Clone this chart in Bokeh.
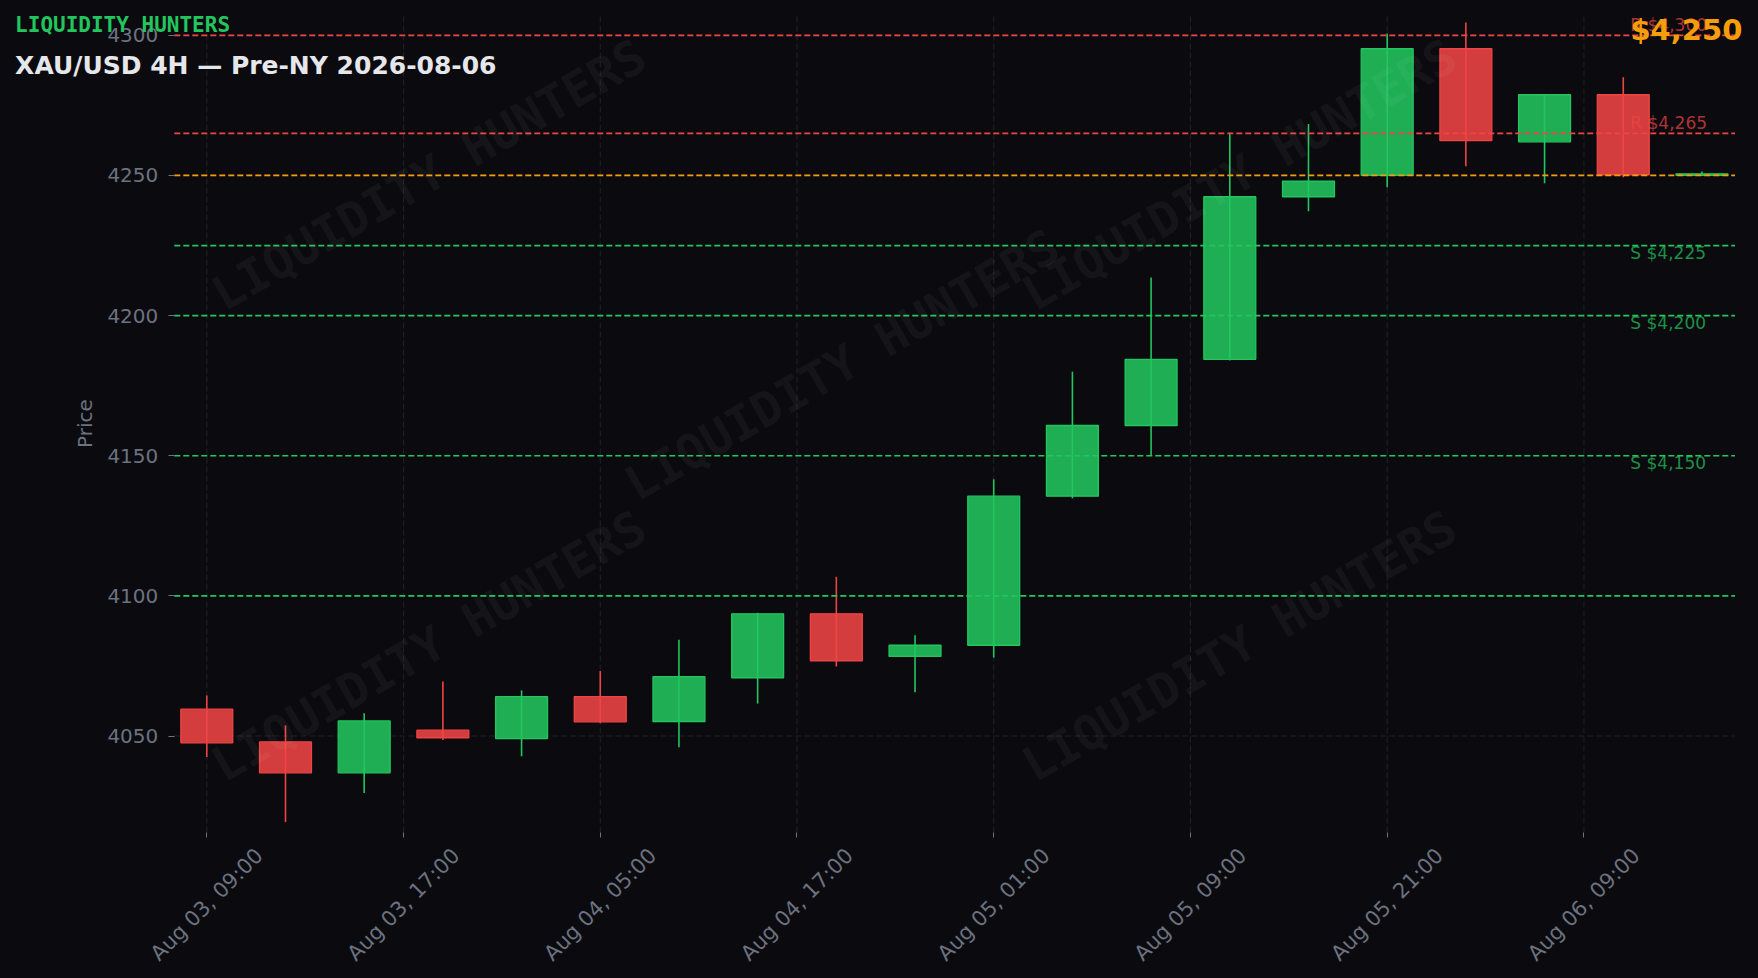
import math
from bokeh.plotting import figure
from bokeh.models import Label, FixedTicker, Range1d, ColumnDataSource
from bokeh.embed import file_html
from bokeh.resources import INLINE

# ---------------- data ----------------
opens = [4059.6, 4047.9, 4036.9, 4052.1, 4049.1, 4064.1, 4055.2, 4070.8, 4093.6, 4078.4,
         4082.4, 4135.6, 4160.8, 4184.4, 4242.4, 4250.0, 4295.2, 4262.0, 4278.8, 4250.0]
closes = [4047.6, 4036.9, 4055.4, 4049.4, 4064.1, 4055.1, 4071.2, 4093.6, 4076.8, 4082.4,
          4135.6, 4160.8, 4184.4, 4242.4, 4248.0, 4295.2, 4262.4, 4278.8, 4250.2, 4250.6]
highs = [4064.5, 4053.8, 4058.1, 4069.5, 4066.3, 4073.2, 4084.4, 4094.0, 4106.8, 4086.0,
         4141.6, 4180.0, 4213.6, 4265.2, 4268.4, 4300.6, 4304.6, 4278.8, 4285.0, 4251.4]
lows = [4042.5, 4019.3, 4029.7, 4048.6, 4042.8, 4054.6, 4046.0, 4061.6, 4074.8, 4065.6,
        4078.0, 4134.8, 4150.0, 4184.0, 4237.2, 4245.8, 4253.3, 4247.2, 4249.4, 4250.0]

x_tick_pos = [0, 2.5, 5, 7.5, 10, 12.5, 15, 17.5]
x_tick_labels = ["Aug 03, 09:00", "Aug 03, 17:00", "Aug 04, 05:00", "Aug 04, 17:00",
                 "Aug 05, 01:00", "Aug 05, 09:00", "Aug 05, 21:00", "Aug 06, 09:00"]
y_ticks = [4050, 4100, 4150, 4200, 4250, 4300]

resistances = [4300, 4265]
supports = [4225, 4200, 4150, 4100]
labeled_supports = [4225, 4200, 4150]
current_price = 4250

brand = "LIQUIDITY HUNTERS"
title = "XAU/USD 4H \u2014 Pre-NY 2026-08-06"

# ---------------- style / geometry ----------------
BG = "#0b0b0f"
GREEN = "#22c55e"
RED = "#ef4444"
ORANGE = "#f59e0b"
GRAY = "#6b7280"
GRID = "#1e2028"
FONT = "DejaVu Sans"
MONO = "DejaVu Sans Mono"

W, H = 1758, 978
# axes box (pixels) and its data limits
AX_L, AX_R, AX_T, AX_B = 173.8, 1734.5, 13.5, 832.0
X_LEFT, X_RIGHT = -0.413, 19.42
Y_BOTTOM, Y_TOP = 4015.6, 4307.6
sx = (AX_R - AX_L) / (X_RIGHT - X_LEFT)
sy = (AX_B - AX_T) / (Y_TOP - Y_BOTTOM)
x_start = X_LEFT - AX_L / sx
x_end = X_RIGHT + (W - AX_R) / sx
y_end = Y_TOP + AX_T / sy
y_start = Y_BOTTOM - (H - AX_B) / sy
PX = 1.0 / sy  # one pixel in price units

p = figure(width=W, height=H, output_backend="svg", toolbar_location=None,
           x_range=Range1d(x_start, x_end), y_range=Range1d(y_start, y_end),
           min_border=0, min_border_left=0, min_border_right=0,
           min_border_top=0, min_border_bottom=0,
           background_fill_color=BG, border_fill_color=BG, outline_line_color=None)

# axes placed at the edges of the price box
p.xaxis.fixed_location = Y_BOTTOM
p.xaxis.bounds = (X_LEFT, X_RIGHT)
p.xaxis.ticker = FixedTicker(ticks=x_tick_pos)
p.xaxis.major_label_overrides = {t: "" for t in x_tick_pos}
p.xaxis.axis_line_color = None
p.xaxis.major_tick_out = 5
p.xaxis.major_tick_in = 0
p.xaxis.minor_tick_out = 0
p.xaxis.minor_tick_in = 0
p.xaxis.major_tick_line_color = GRAY

p.yaxis.fixed_location = X_LEFT
p.yaxis.bounds = (Y_BOTTOM, Y_TOP)
p.yaxis.ticker = FixedTicker(ticks=y_ticks)
p.yaxis.axis_line_color = None
p.yaxis.major_tick_out = 6
p.yaxis.major_tick_in = 0
p.yaxis.minor_tick_out = 0
p.yaxis.minor_tick_in = 0
p.yaxis.major_tick_line_color = GRAY
p.yaxis.major_label_text_color = GRAY
p.yaxis.major_label_text_font = FONT
p.yaxis.major_label_text_font_size = "20px"
p.yaxis.major_label_standoff = 10
p.yaxis.axis_label = "Price"
p.yaxis.axis_label_text_color = GRAY
p.yaxis.axis_label_text_font = FONT
p.yaxis.axis_label_text_font_size = "20px"
p.yaxis.axis_label_text_font_style = "normal"
p.yaxis.axis_label_standoff = 8

# grid lines limited to the price box
p.xgrid.grid_line_color = None
p.ygrid.grid_line_color = None
p.segment(x0=x_tick_pos, x1=x_tick_pos, y0=[Y_BOTTOM] * len(x_tick_pos), y1=[Y_TOP] * len(x_tick_pos),
          line_color=GRID, line_dash="6 3", line_width=1.1)
p.segment(x0=[X_LEFT] * len(y_ticks), x1=[X_RIGHT] * len(y_ticks), y0=y_ticks, y1=y_ticks,
          line_color=GRID, line_dash="6 3", line_width=1.1)

# candles
idx = list(range(len(opens)))
colors = [GREEN if c >= o else RED for o, c in zip(opens, closes)]
src = ColumnDataSource(dict(
    x=idx, open=opens, close=closes, high=highs, low=lows,
    top=[max(o, c) for o, c in zip(opens, closes)],
    bottom=[min(o, c) for o, c in zip(opens, closes)],
    color=colors))
p.segment(x0="x", y0="high", x1="x", y1="low", color="color", line_width=1.6, source=src)
p.vbar(x="x", width=0.66, top="top", bottom="bottom", fill_color="color", fill_alpha=0.88,
       line_color="color", line_width=1.3, source=src)

# level lines across the price box
def level_lines(levels, color):
    p.segment(x0=[X_LEFT] * len(levels), x1=[X_RIGHT] * len(levels), y0=levels, y1=levels,
              line_color=color, line_dash="6 3", line_width=1.7)

level_lines(resistances, RED)
level_lines(supports, GREEN)
level_lines([current_price], ORANGE)

# watermark
wm_x = [2.82, 8.07, 13.12, 2.82, 13.12]
wm_y = [4250.3, 4182.5, 4250.3, 4082.2, 4082.2]
for wx, wy in zip(wm_x, wm_y):
    p.add_layout(Label(x=wx, y=wy, text=brand, angle=math.radians(30),
                       text_align="center", text_baseline="middle",
                       text_font=MONO, text_font_style="bold", text_font_size="48px",
                       text_color="#ffffff", text_alpha=0.045))

SHIFT = 8.5 * PX  # baseline correction for labels
LABEL_X = 18.09
for v in resistances:
    p.add_layout(Label(x=LABEL_X, y=v + 2 * PX + SHIFT, text=f"R ${v:,}", text_align="left",
                       text_baseline="alphabetic", text_font=FONT, text_font_size="17px",
                       text_color=RED, text_alpha=0.72))
for v in labeled_supports:
    p.add_layout(Label(x=LABEL_X, y=v - 16 * PX + SHIFT, text=f"S ${v:,}", text_align="left",
                       text_baseline="alphabetic", text_font=FONT, text_font_size="17px",
                       text_color=GREEN, text_alpha=0.72))

# current price
p.add_layout(Label(x=19.513, y=4298.7 + SHIFT, text=f"${current_price:,}", text_align="right",
                   text_baseline="alphabetic", text_font=FONT, text_font_style="bold",
                   text_font_size="29px", text_color=ORANGE))

# header texts
p.add_layout(Label(x=-2.436, y=4300.64 + SHIFT, text=brand, text_align="left", text_baseline="alphabetic",
                   text_font=MONO, text_font_style="bold", text_font_size="21px", text_color=GREEN))
p.add_layout(Label(x=-2.436, y=4286.2 + SHIFT, text=title, text_align="left", text_baseline="alphabetic",
                   text_font=FONT, text_font_style="bold", text_font_size="25px", text_color="#e5e7eb"))

# x tick labels (centred on the tick, rotated 45 degrees)
lab_src = ColumnDataSource(dict(x=x_tick_pos, y=[Y_BOTTOM - 25.7] * len(x_tick_pos), text=x_tick_labels))
p.text(x="x", y="y", text="text", source=lab_src, angle=math.pi / 4,
       text_align="center", text_baseline="middle",
       text_font={"value": FONT}, text_font_size="21px", text_color=GRAY)

html = file_html(p, INLINE)
html = html.replace("<head>", "<head><style>html,body{background:#0b0b0f;}</style>", 1)
open("out.html", "w").write(html)
